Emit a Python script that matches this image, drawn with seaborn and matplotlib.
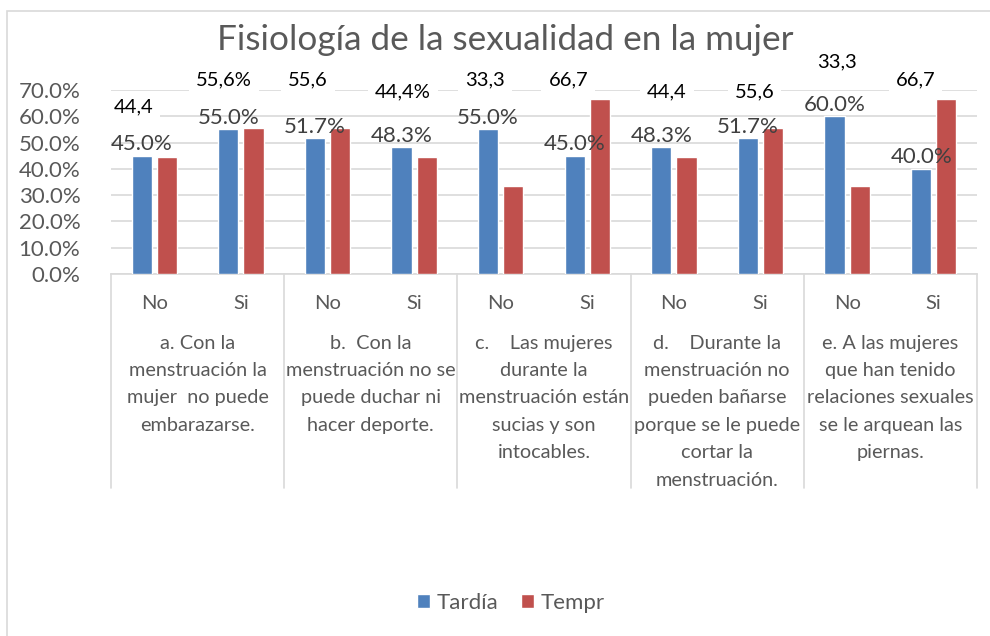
import matplotlib
matplotlib.use('Agg')

import pandas as pd
import seaborn as sns
from matplotlib import pyplot as plt
from matplotlib.ticker import PercentFormatter
from matplotlib.patches import Rectangle
import matplotlib.transforms as mtransforms

# ---- data ----
title = 'Fisiología de la sexualidad en la mujer'
groups = ['a. Con la\nmenstruación la\nmujer  no puede\nembarazarse.',
          'b.  Con la\nmenstruación no se\npuede duchar ni\nhacer deporte.',
          'c.    Las mujeres\ndurante la\nmenstruación están\nsucias y son\nintocables.',
          'd.    Durante la\nmenstruación no\npueden bañarse\nporque se le puede\ncortar la\nmenstruación.',
          'e. A las mujeres\nque han tenido\nrelaciones sexuales\nse le arquean las\npiernas.']
answers = ['No', 'Si']
series = ['Tardía', 'Tempr']
tardia = [0.45, 0.55, 0.517, 0.483, 0.55, 0.45, 0.483, 0.517, 0.60, 0.40]
tempr = [0.444, 0.556, 0.556, 0.444, 0.333, 0.667, 0.444, 0.556, 0.333, 0.667]
tempr_labels = ['44,4', '55,6%', '55,6', '44,4%', '33,3', '66,7', '44,4', '55,6', '33,3', '66,7']

# layout of the hand-placed Tempr labels (data y, x offset in slot units)
tempr_lab_y = [0.635, 0.738, 0.738, 0.692, 0.738, 0.738, 0.692, 0.692, 0.806, 0.738]
tempr_lab_dx = [-0.24, -0.20, -0.23, -0.13, -0.18, -0.22, -0.08, -0.07, -0.12, -0.21]

BLUE = '#4F81BD'
RED = '#C0504D'
GRAY = '#595959'
GRID = '#D9D9D9'

sns.set_style('white')
plt.rcParams['font.family'] = ['Lato', 'DejaVu Sans']

# long table for seaborn
slots = ['%s %s' % (g[0], a) for g in groups for a in answers]
df = pd.DataFrame({
    'slot': slots * 2,
    'serie': [series[0]] * len(slots) + [series[1]] * len(slots),
    'valor': tardia + tempr,
})

fig = plt.figure(figsize=(9.9, 6.36), dpi=100)
ax = fig.add_axes([111 / 990, 1 - 274 / 636, 866 / 990, 184 / 636])

sns.barplot(data=df, x='slot', y='valor', hue='serie', order=slots,
            hue_order=series, palette=[BLUE, RED], width=0.58, gap=0.2,
            saturation=1, ax=ax, zorder=3)

ax.set_ylim(0, 0.7)
ax.set_xlim(-0.5, len(slots) - 0.5)
ax.set_yticks([i / 10 for i in range(8)])
ax.yaxis.set_major_formatter(PercentFormatter(1, decimals=1))
ax.tick_params(axis='y', labelsize=16, labelcolor=GRAY, length=0, pad=22)
ax.set_xticks([])
ax.set_xlabel('')
ax.set_ylabel('')
ax.grid(axis='y', color=GRID, lw=1.2, zorder=0)
for s in ['top', 'right', 'left']:
    ax.spines[s].set_visible(False)
ax.spines['bottom'].set_color(GRID)
ax.spines['bottom'].set_linewidth(1.2)

# Tardía labels above the bars
ax.bar_label(ax.containers[0], labels=['%.1f%%' % (v * 100) for v in tardia],
             fontsize=16, color='#404040', padding=1, zorder=5)

# Tempr labels (manually placed boxes in the original)
for i, lab in enumerate(tempr_labels):
    ax.text(i + tempr_lab_dx[i], tempr_lab_y[i], lab, ha='center', va='center',
            fontsize=14.5, color='black', clip_on=False, zorder=6,
            bbox=dict(boxstyle='square,pad=0.35', fc='white', ec='none'))

# multi-level category axis
trans = mtransforms.blended_transform_factory(ax.transData, ax.transAxes)
for k in range(len(groups) + 1):
    x = -0.5 + 2 * k
    ax.plot([x, x], [0, -1.163], color=GRID, lw=1.2, transform=trans, clip_on=False)
for i, s in enumerate(slots):
    ax.text(i, -0.158, s.split()[1], ha='center', va='center', fontsize=14.5,
            color=GRAY, transform=trans)
for k, g in enumerate(groups):
    ax.text(2 * k + 0.5, -0.33, g, ha='center', va='top', fontsize=14.3,
            color=GRAY, linespacing=1.74, transform=trans)

sns.move_legend(ax, 'center', bbox_to_anchor=(511 / 990, 1 - 603 / 636),
                bbox_transform=fig.transFigure, ncol=2, frameon=False,
                title=None, fontsize=16, handlelength=0.6, handleheight=0.6,
                handletextpad=0.3, columnspacing=1.0, labelcolor=GRAY)

fig.text(505 / 990, 1 - 40 / 636, title, ha='center', va='center',
         fontsize=25.3, color=GRAY)

fig.add_artist(Rectangle((7 / 990, -0.1), 1.2, 1.1 - 11 / 636, transform=fig.transFigure,
                         fill=False, ec=GRID, lw=1.2))

fig.savefig('out.png', dpi=100)
